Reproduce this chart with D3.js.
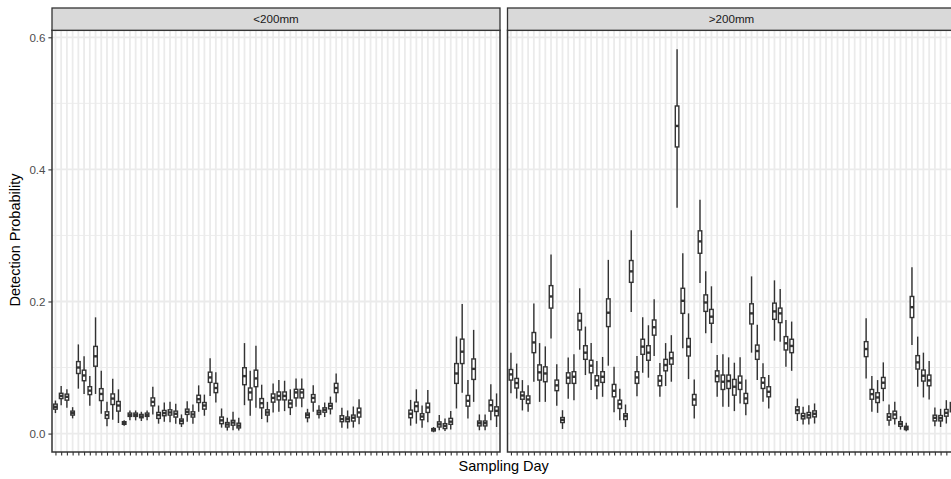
<!DOCTYPE html>
<html>
<head>
<meta charset="utf-8">
<script src="https://cdn.jsdelivr.net/npm/d3@7/dist/d3.min.js"></script>
<style>
  body { margin: 0; background: #fff; }
  svg { display: block; font-family: "Liberation Sans", Arial, Helvetica, sans-serif; }
</style>
</head>
<body>
<div id="viz"></div>
<script>
const width = 951;
const height = 479;
const panelTop = 30.3;     // bottom of the strip
const panelBottom = 452;
const stripTop = 8;
const panelWidth = 448;
const panelLefts = [52, 507.5];
const boxFrac = 0.62;      // box width as a share of the category step
const lineColor = '#333333';

// Sampling days (x categories, shared by both facets)
const days = [1, 2, 3, 4, 5, 6, 7, 8, 9, 10, 11, 12, 13, 14, 15, 16, 17, 18, 19, 20,
  21, 22, 23, 24, 25, 26, 27, 28, 29, 30, 31, 32, 33, 34, 35, 36, 37, 38, 39, 40,
  41, 42, 43, 44, 45, 46, 47, 48, 49, 50, 51, 52, 53, 54, 55, 56, 57, 58, 59, 60,
  61, 62, 63, 64, 65, 66, 67, 68, 69, 70, 71, 72, 73, 74, 75, 76, 77, 78];

const facets = ['<200mm', '>200mm'];
const yTicks = [0, 0.2, 0.4, 0.6];
const yMinor = [0.1, 0.3, 0.5];

// [lower whisker, q1, median, q3, upper whisker] per sampling day, null = no data
const small = [
  [0.031, 0.037, 0.0405, 0.0446, 0.050], [0.043, 0.053, 0.057, 0.061, 0.072],
  [0.039, 0.0506, 0.0557, 0.0597, 0.067], [0.023, 0.028, 0.031, 0.034, 0.040],
  [0.068, 0.091, 0.100, 0.109, 0.135], [0.060, 0.080, 0.088, 0.096, 0.117],
  [0.042, 0.059, 0.065, 0.071, 0.087], [0.060, 0.102, 0.117, 0.132, 0.176],
  [0.030, 0.050, 0.060, 0.068, 0.095], [0.011, 0.023, 0.028, 0.033, 0.048],
  [0.021, 0.044, 0.053, 0.060, 0.083], [0.016, 0.034, 0.0425, 0.0486, 0.067],
  [0.012, 0.014, 0.016, 0.018, 0.020], [0.020, 0.026, 0.028, 0.031, 0.035],
  [0.020, 0.026, 0.028, 0.031, 0.035], [0.019, 0.024, 0.026, 0.029, 0.033],
  [0.020, 0.026, 0.028, 0.031, 0.035], [0.029, 0.042, 0.048, 0.054, 0.071],
  [0.015, 0.023, 0.028, 0.032, 0.0425], [0.018, 0.027, 0.031, 0.035, 0.047],
  [0.017, 0.028, 0.032, 0.036, 0.048], [0.015, 0.025, 0.030, 0.034, 0.045],
  [0.010, 0.015, 0.019, 0.022, 0.029], [0.018, 0.029, 0.033, 0.037, 0.049],
  [0.015, 0.025, 0.029, 0.033, 0.044], [0.033, 0.047, 0.052, 0.058, 0.073],
  [0.027, 0.037, 0.0425, 0.047, 0.059], [0.057, 0.0775, 0.085, 0.093, 0.114],
  [0.047, 0.062, 0.069, 0.076, 0.093], [0.009, 0.015, 0.020, 0.025, 0.038],
  [0.0046, 0.010, 0.0137, 0.0167, 0.024], [0.005, 0.0127, 0.0167, 0.020, 0.033],
  [0.0046, 0.0086, 0.012, 0.0157, 0.024], [0.043, 0.074, 0.087, 0.0997, 0.137],
  [0.027, 0.051, 0.0623, 0.069, 0.095], [0.039, 0.071, 0.0835, 0.096, 0.133],
  [0.022, 0.039, 0.046, 0.053, 0.074], [0.017, 0.028, 0.032, 0.036, 0.048],
  [0.032, 0.0476, 0.054, 0.060, 0.076], [0.033, 0.051, 0.057, 0.063, 0.081],
  [0.034, 0.051, 0.057, 0.063, 0.080], [0.028, 0.0395, 0.0456, 0.0506, 0.067],
  [0.0405, 0.054, 0.0623, 0.067, 0.0835], [0.040, 0.054, 0.0623, 0.067, 0.0835],
  [0.017, 0.024, 0.028, 0.031, 0.0375], [0.033, 0.0476, 0.054, 0.059, 0.073],
  [0.023, 0.029, 0.032, 0.035, 0.043], [0.025, 0.0324, 0.036, 0.039, 0.047],
  [0.029, 0.0375, 0.042, 0.0456, 0.056], [0.047, 0.062, 0.069, 0.076, 0.091],
  [0.009, 0.018, 0.022, 0.027, 0.039], [0.0076, 0.018, 0.0218, 0.025, 0.035],
  [0.009, 0.019, 0.024, 0.028, 0.041], [0.014, 0.025, 0.032, 0.0385, 0.052],
  null, null, null, null, null, null, null, null,
  [0.012, 0.024, 0.030, 0.0355, 0.051], [0.015, 0.0334, 0.0415, 0.0476, 0.067],
  [0.009, 0.021, 0.0258, 0.030, 0.0425], [0.017, 0.032, 0.0395, 0.046, 0.066],
  [0.002, 0.004, 0.006, 0.0076, 0.010], [0.005, 0.010, 0.014, 0.0177, 0.028],
  [0.004, 0.0076, 0.0116, 0.015, 0.023], [0.006, 0.014, 0.018, 0.023, 0.034],
  [0.038, 0.076, 0.091, 0.106, 0.147], [0.062, 0.106, 0.124, 0.143, 0.196],
  [0.023, 0.0415, 0.0496, 0.0577, 0.081], [0.048, 0.082, 0.098, 0.113, 0.157],
  [0.005, 0.0116, 0.0157, 0.019, 0.029], [0.005, 0.0116, 0.0157, 0.019, 0.029],
  [0.020, 0.034, 0.043, 0.0506, 0.0745], [0.010, 0.027, 0.0344, 0.0405, 0.0608]
];

const large = [
  [0.061, 0.081, 0.0896, 0.097, 0.1225], [0.053, 0.069, 0.0765, 0.0835, 0.106],
  [0.035, 0.052, 0.0577, 0.063, 0.081], [0.033, 0.0456, 0.0516, 0.057, 0.073],
  [0.0785, 0.1225, 0.138, 0.153, 0.197], [0.048, 0.081, 0.0927, 0.104, 0.137],
  [0.048, 0.0785, 0.091, 0.101, 0.132], [0.144, 0.19, 0.2076, 0.224, 0.271],
  [0.042, 0.065, 0.073, 0.081, 0.105], [0.007, 0.0167, 0.0208, 0.0243, 0.0354],
  [0.0527, 0.076, 0.0846, 0.092, 0.115], [0.0506, 0.076, 0.086, 0.0937, 0.12],
  [0.127, 0.157, 0.171, 0.182, 0.22], [0.0886, 0.1124, 0.1225, 0.133, 0.162],
  [0.066, 0.092, 0.1028, 0.111, 0.137], [0.052, 0.0724, 0.0805, 0.0876, 0.110],
  [0.0557, 0.0775, 0.086, 0.0937, 0.116], [0.1028, 0.162, 0.183, 0.204, 0.263],
  [0.0324, 0.0557, 0.0648, 0.0744, 0.101], [0.020, 0.038, 0.0446, 0.0506, 0.068],
  [0.010, 0.0213, 0.0263, 0.030, 0.044], [0.184, 0.229, 0.2456, 0.262, 0.308],
  [0.0567, 0.076, 0.085, 0.0937, 0.1175], [0.092, 0.12, 0.1316, 0.1428, 0.176],
  [0.0846, 0.111, 0.1225, 0.133, 0.164], [0.1175, 0.149, 0.161, 0.172, 0.2035],
  [0.0557, 0.0724, 0.080, 0.0876, 0.107], [0.072, 0.095, 0.1038, 0.1124, 0.137],
  [0.0785, 0.105, 0.114, 0.123, 0.149], [0.3418, 0.434, 0.4658, 0.496, 0.582],
  [0.129, 0.182, 0.201, 0.22, 0.273], [0.0825, 0.1175, 0.1316, 0.144, 0.182],
  [0.0228, 0.043, 0.0516, 0.0592, 0.082], [0.228, 0.273, 0.291, 0.307, 0.354],
  [0.152, 0.185, 0.1985, 0.21, 0.2456], [0.137, 0.167, 0.177, 0.188, 0.223],
  [0.0557, 0.0785, 0.087, 0.095, 0.119], [0.0405, 0.0668, 0.0785, 0.0886, 0.12],
  [0.0405, 0.0683, 0.0795, 0.0886, 0.1154], [0.034, 0.0582, 0.0709, 0.082, 0.1073],
  [0.0456, 0.0668, 0.077, 0.0871, 0.1154], [0.0278, 0.0456, 0.0532, 0.0608, 0.082],
  [0.1225, 0.166, 0.182, 0.1965, 0.238], [0.081, 0.1124, 0.125, 0.134, 0.1646],
  [0.048, 0.0683, 0.077, 0.0846, 0.1063], [0.038, 0.0557, 0.0633, 0.0709, 0.0886],
  [0.1407, 0.173, 0.185, 0.1975, 0.232], [0.139, 0.168, 0.182, 0.19, 0.219],
  [0.101, 0.1266, 0.1367, 0.1468, 0.172], [0.095, 0.1225, 0.1327, 0.1428, 0.1696],
  [0.019, 0.0304, 0.0354, 0.0405, 0.053], [0.0137, 0.0223, 0.0263, 0.0304, 0.0405],
  [0.0137, 0.0238, 0.0278, 0.0319, 0.043], [0.0152, 0.0253, 0.030, 0.0344, 0.0456],
  null, null, null, null, null, null, null, null,
  [0.0835, 0.1165, 0.128, 0.1392, 0.1747], [0.033, 0.052, 0.0597, 0.0668, 0.087],
  [0.0314, 0.047, 0.0547, 0.0618, 0.081], [0.049, 0.0684, 0.077, 0.085, 0.1078],
  [0.012, 0.0203, 0.0253, 0.030, 0.044], [0.0137, 0.0228, 0.0289, 0.0339, 0.048],
  [0.006, 0.0111, 0.0147, 0.018, 0.0263], [0.0035, 0.006, 0.0086, 0.011, 0.0162],
  [0.134, 0.1757, 0.1914, 0.2076, 0.252], [0.0709, 0.0977, 0.1078, 0.118, 0.1468],
  [0.0547, 0.0795, 0.0876, 0.0962, 0.1225], [0.0516, 0.0724, 0.0805, 0.0886, 0.110],
  [0.011, 0.0192, 0.0238, 0.0278, 0.0395], [0.010, 0.0192, 0.0233, 0.0273, 0.0375],
  [0.0152, 0.0263, 0.0314, 0.0365, 0.0506], [0.020, 0.033, 0.040, 0.047, 0.060]
];

const panelData = [small, large];

const svg = d3.select('#viz')
  .append('svg')
    .attr('width', width)
    .attr('height', height)
    .attr('viewBox', [0, 0, width, height]);

svg.append('rect')
  .attr('width', width)
  .attr('height', height)
  .attr('fill', 'white');

const yScale = d3.scaleLinear()
  .domain([-0.0279, 0.6106])
  .range([panelBottom, panelTop]);

facets.forEach((label, p) => {
  const left = panelLefts[p];
  const xScale = d3.scalePoint()
    .domain(days)
    .range([left, left + panelWidth])
    .padding(0.6);
  const bw = xScale.step() * boxFrac;

  const panel = svg.append('g');

  // grid: minor y, major y, major x
  panel.selectAll('.minor').data(yMinor).join('line')
    .attr('x1', left).attr('x2', left + panelWidth)
    .attr('y1', d => yScale(d)).attr('y2', d => yScale(d))
    .attr('stroke', '#ebebeb').attr('stroke-width', 0.9);

  panel.selectAll('.major').data(yTicks).join('line')
    .attr('x1', left).attr('x2', left + panelWidth)
    .attr('y1', d => yScale(d)).attr('y2', d => yScale(d))
    .attr('stroke', '#ebebeb').attr('stroke-width', 1.8);

  panel.selectAll('.vgrid').data(days).join('line')
    .attr('x1', d => xScale(d)).attr('x2', d => xScale(d))
    .attr('y1', panelTop).attr('y2', panelBottom)
    .attr('stroke', '#ebebeb').attr('stroke-width', 1.8);

  // boxplots
  const rows = days.map((d, i) => ({day: d, v: panelData[p][i]})).filter(r => r.v);
  const boxes = panel.selectAll('.box').data(rows).join('g');

  boxes.append('line')
    .attr('x1', d => xScale(d.day)).attr('x2', d => xScale(d.day))
    .attr('y1', d => yScale(d.v[0])).attr('y2', d => yScale(d.v[4]))
    .attr('stroke', lineColor).attr('stroke-width', 1.4);

  boxes.append('rect')
    .attr('x', d => xScale(d.day) - bw / 2)
    .attr('width', bw)
    .attr('y', d => yScale(d.v[3]))
    .attr('height', d => yScale(d.v[1]) - yScale(d.v[3]))
    .attr('fill', 'white')
    .attr('stroke', lineColor).attr('stroke-width', 1.4);

  boxes.append('line')
    .attr('x1', d => xScale(d.day) - bw / 2).attr('x2', d => xScale(d.day) + bw / 2)
    .attr('y1', d => yScale(d.v[2])).attr('y2', d => yScale(d.v[2]))
    .attr('stroke', lineColor).attr('stroke-width', 2.4);

  // panel border
  panel.append('rect')
    .attr('x', left).attr('y', panelTop)
    .attr('width', panelWidth).attr('height', panelBottom - panelTop)
    .attr('fill', 'none')
    .attr('stroke', lineColor).attr('stroke-width', 1.5);

  // strip
  panel.append('rect')
    .attr('x', left).attr('y', stripTop)
    .attr('width', panelWidth).attr('height', panelTop - stripTop)
    .attr('fill', '#d9d9d9')
    .attr('stroke', lineColor).attr('stroke-width', 1.3);

  panel.append('text')
    .attr('x', left + panelWidth / 2)
    .attr('y', (stripTop + panelTop) / 2)
    .attr('dy', '0.35em')
    .attr('text-anchor', 'middle')
    .attr('font-size', 11.6)
    .attr('fill', '#1a1a1a')
    .text(label);

  // x axis ticks (no labels)
  const xAxis = panel.append('g')
    .attr('transform', `translate(0, ${panelBottom})`)
    .call(d3.axisBottom(xScale).tickSize(3.6).tickFormat(() => ''));
  xAxis.select('.domain').remove();
  xAxis.selectAll('line').attr('stroke', lineColor).attr('stroke-width', 1.1);

  // y axis only on the first panel
  if (p === 0) {
    const yAxis = panel.append('g')
      .attr('transform', `translate(${left}, 0)`)
      .call(d3.axisLeft(yScale).tickValues(yTicks).tickSize(3.6).tickPadding(2.9)
        .tickFormat(d3.format('.1f')));
    yAxis.select('.domain').remove();
    yAxis.selectAll('line').attr('stroke', lineColor).attr('stroke-width', 1.1);
    yAxis.selectAll('text')
      .attr('font-size', 11.6)
      .attr('font-family', '"Liberation Sans", Arial, sans-serif')
      .attr('fill', '#4d4d4d');
  }
});

// axis titles
svg.append('text')
  .attr('transform', `translate(19.5, 240) rotate(-90)`)
  .attr('text-anchor', 'middle')
  .attr('font-size', 14.5)
  .attr('fill', 'black')
  .text('Detection Probability');

svg.append('text')
  .attr('x', (panelLefts[0] + panelLefts[1] + panelWidth) / 2)
  .attr('y', 470.5)
  .attr('text-anchor', 'middle')
  .attr('font-size', 14.5)
  .attr('fill', 'black')
  .text('Sampling Day');
</script>
</body>
</html>
